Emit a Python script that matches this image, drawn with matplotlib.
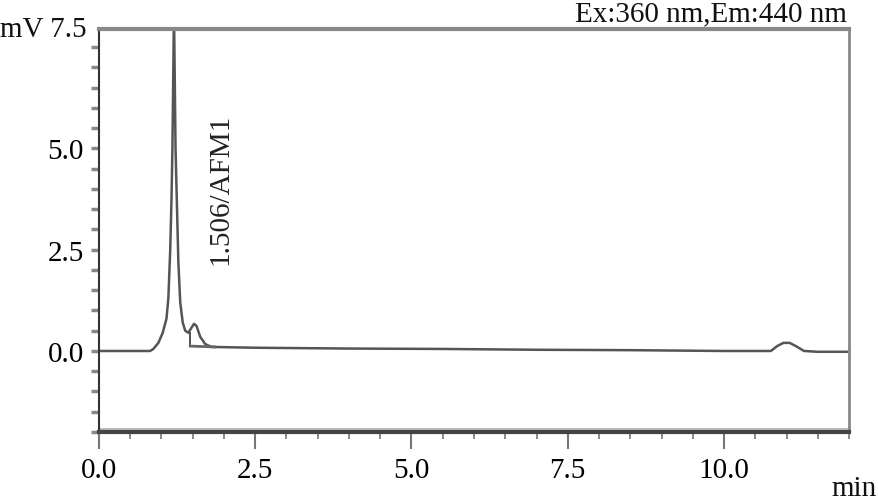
import numpy as np
import matplotlib
matplotlib.use("Agg")
import matplotlib.pyplot as plt
from matplotlib.ticker import MultipleLocator

plt.rcParams['font.family'] = ['Liberation Serif', 'DejaVu Serif']

# chromatogram trace (min, mV)
time = [0.0, 0.5, 0.82, 0.87, 0.95, 1.02, 1.08, 1.11, 1.14, 1.16, 1.175, 1.20,
        1.225, 1.245, 1.27, 1.30, 1.34, 1.38, 1.43, 1.47, 1.52, 1.56, 1.62,
        1.70, 1.80, 2.5, 4.0, 5.5, 7.0, 8.5, 10.0, 10.75, 10.85, 10.95,
        11.05, 11.15, 11.28, 11.5, 12.0]
signal = [0.0, 0.0, 0.0, 0.05, 0.2, 0.45, 0.8, 1.3, 2.5, 3.74, 5.0, 8.4,
          5.0, 3.74, 2.2, 1.2, 0.7, 0.5, 0.45, 0.55, 0.67, 0.62, 0.35,
          0.17, 0.1, 0.08, 0.06, 0.05, 0.03, 0.02, 0.0, 0.0, 0.12, 0.2,
          0.2, 0.12, 0.0, -0.02, -0.02]

# integration marks for the AFM1 peak
drop_x = [1.46, 1.46]
drop_y = [0.45, 0.12]
base_x = [1.46, 1.85]
base_y = [0.12, 0.1]

peak_label = "1.506/AFM1"
peak_label_pos = (1.95, 2.15)

xticks = [0.0, 2.5, 5.0, 7.5, 10.0]
yticks = [0.0, 2.5, 5.0]

fs = 21

fig = plt.figure(figsize=(8.79, 5.02), dpi=100)
ax = fig.add_axes([0.1126, 0.1375, 0.8533, 0.8027])

ax.plot(time, signal, color="#555555", lw=1.8, solid_joinstyle="round")
ax.plot(drop_x, drop_y, color="#444444", lw=1.3)
ax.plot(base_x, base_y, color="#666666", lw=2.0)

ax.text(peak_label_pos[0], peak_label_pos[1], peak_label, rotation=90,
        ha="center", va="bottom", fontsize=fs, color="#222222")

ax.set_xlim(0, 12)
ax.set_ylim(-2.0, 7.95)

ax.set_xticks(xticks)
ax.set_xticklabels(["%.1f" % v for v in xticks])
ax.set_yticks(yticks)
ax.set_yticklabels(["%.1f" % v for v in yticks])
ax.xaxis.set_minor_locator(MultipleLocator(0.5))
ax.yaxis.set_minor_locator(MultipleLocator(0.5))

ax.tick_params(axis="x", which="major", direction="out", length=12, width=1.5,
               color="#777777", labelsize=fs, pad=6)
ax.tick_params(axis="x", which="minor", direction="out", length=5, width=1.2,
               color="#777777")
ax.tick_params(axis="y", which="both", direction="out", length=6, width=2.5,
               color="#888888", labelsize=fs, pad=5)

ax.spines["left"].set_color("#333333")
ax.spines["left"].set_linewidth(1.5)
ax.spines["bottom"].set_color("#444444")
ax.spines["bottom"].set_linewidth(3.0)
ax.spines["top"].set_color("#888888")
ax.spines["top"].set_linewidth(3.0)
ax.spines["right"].set_color("#888888")
ax.spines["right"].set_linewidth(2.0)
ax.axhline(-1.93, color="#bbbbbb", lw=1.5)

# labels placed as in the instrument print-out
ax.text(-0.016, 1.0, "mV 7.5", transform=ax.transAxes, ha="right", va="center",
        fontsize=fs, color="#111111")
fig.text(0.963, 0.998, "Ex:360 nm,Em:440 nm", ha="right", va="top",
         fontsize=fs, color="#111111")
fig.text(0.946, 0.0, "min", ha="left", va="bottom", fontsize=fs,
         color="#111111")

fig.savefig("out.png", dpi=100)
